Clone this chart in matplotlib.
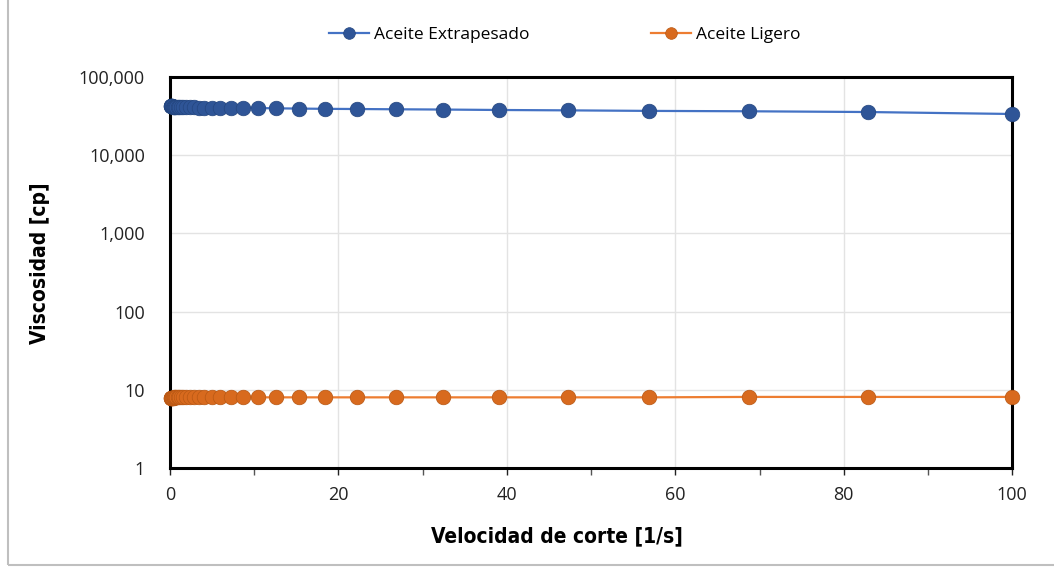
import matplotlib
matplotlib.use("Agg")
import matplotlib.pyplot as plt
from matplotlib.patches import Rectangle
from matplotlib.ticker import FuncFormatter, MultipleLocator, FixedLocator

# shear rate [1/s]
shear = [0.100, 0.115, 0.139, 0.168, 0.202, 0.244, 0.294, 0.355, 0.429, 0.518,
         0.625, 0.754, 0.910, 1.10, 1.32, 1.60, 1.93, 2.33, 2.81, 3.39,
         4.09, 4.94, 5.96, 7.20, 8.69, 10.5, 12.6, 15.3, 18.4, 22.2,
         26.8, 32.4, 39.1, 47.2, 56.9, 68.7, 82.9, 100.0]

# viscosity [cp]
extrapesado = [42500, 42400, 42300, 42200, 42100, 42000, 41900, 41800, 41700, 41600,
               41500, 41400, 41300, 41200, 41100, 41000, 40900, 40800, 40700, 40600,
               40500, 40400, 40300, 40200, 40100, 40000, 39700, 39400, 39100, 38900,
               38600, 38300, 37800, 37400, 36800, 36400, 35600, 33600]
ligero = [7.9, 7.9, 7.9, 7.9, 7.9, 7.9, 7.9, 7.9, 7.9, 8.0,
          8.0, 8.0, 8.0, 8.0, 8.0, 8.0, 8.0, 8.0, 8.0, 8.0,
          8.0, 8.0, 8.0, 8.0, 8.0, 8.0, 8.0, 8.0, 8.0, 8.0,
          8.0, 8.0, 8.0, 8.0, 8.0, 8.1, 8.1, 8.1]

yticks = [1, 10, 100, 1000, 10000, 100000]

plt.rcParams["font.family"] = ["Open Sans", "DejaVu Sans"]

fig = plt.figure(figsize=(10.54, 5.70), dpi=100)
fig.patches.append(Rectangle((0.008, 0.009), 1.2, 1.2, transform=fig.transFigure,
                             fill=False, edgecolor="#BFBFBF", linewidth=1.5))
ax = fig.add_axes([0.1613, 0.179, 0.799, 0.686])

ax.plot(shear, extrapesado, color="#4472C4", linewidth=1.6, marker="o",
        markersize=10.5, markerfacecolor="#2F5597", markeredgecolor="#24467F",
        markeredgewidth=0.5, label="Aceite Extrapesado", clip_on=False, zorder=3)
ax.plot(shear, ligero, color="#ED7D31", linewidth=1.6, marker="o",
        markersize=10.5, markerfacecolor="#D86A1E", markeredgecolor="#B85814",
        markeredgewidth=0.5, label="Aceite Ligero", clip_on=False, zorder=3)

ax.set_yscale("log")
ax.set_ylim(1, 100000)
ax.set_xlim(0, 100)
ax.yaxis.set_major_locator(FixedLocator(yticks))
ax.yaxis.set_minor_locator(FixedLocator([]))
ax.yaxis.set_major_formatter(FuncFormatter(lambda v, p: f"{v:,.0f}"))
ax.xaxis.set_major_locator(MultipleLocator(20))
ax.xaxis.set_minor_locator(MultipleLocator(10))

ax.grid(True, which="major", color="#E3E3E3", linewidth=1.0)
ax.set_axisbelow(True)
for s in ax.spines.values():
    s.set_linewidth(2.2)
    s.set_color("black")

ax.tick_params(axis="y", length=0, pad=18, labelsize=13, colors="#222222")
ax.tick_params(axis="x", which="major", length=5, width=1, pad=8,
               labelsize=13, colors="#222222", direction="out")
ax.tick_params(axis="x", which="minor", length=5, width=1, direction="out",
               colors="#555555")
ax.tick_params(axis="x", which="both", labelcolor="#222222")

ax.set_xlabel("Velocidad de corte [1/s]", fontsize=15, fontweight="bold",
              family="DejaVu Sans", fontstretch="condensed")
ax.set_ylabel("Viscosidad [cp]", fontsize=15, fontweight="bold",
              family="DejaVu Sans", fontstretch="condensed")
ax.xaxis.set_label_coords(0.46, -0.15)
ax.yaxis.set_label_coords(-0.143, 0.524)

fig.legend(loc="upper center", bbox_to_anchor=(0.536, 0.98), ncol=2,
           frameon=False, fontsize=12.5, columnspacing=7.0, handlelength=2.3,
           handletextpad=0.3, markerscale=0.8)

fig.savefig("out.png", dpi=100)
